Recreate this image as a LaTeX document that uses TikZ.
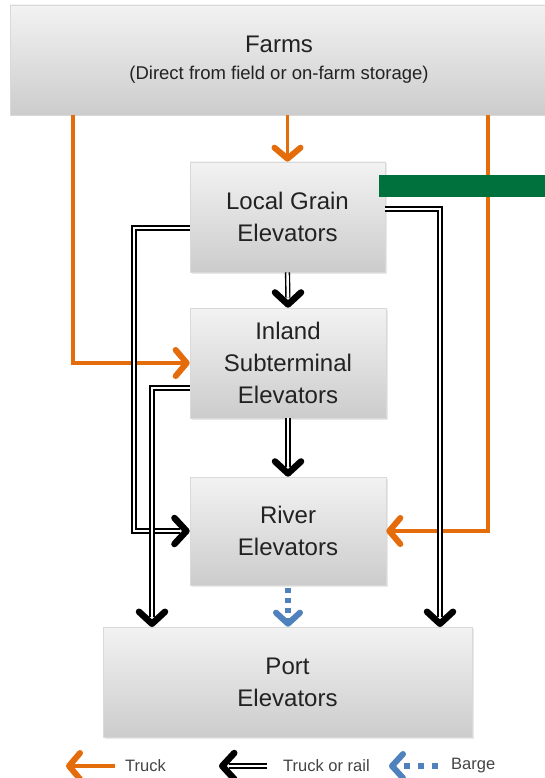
\documentclass[tikz,border=0pt]{standalone}
\usepackage{fontspec}
\setmainfont{Liberation Sans}
\usetikzlibrary{arrows.meta,shadows,calc}
\definecolor{orng}{HTML}{E46C0A}
\definecolor{bluA}{HTML}{4F81BD}
\definecolor{grn}{HTML}{00703C}
\definecolor{txt}{HTML}{222222}
\definecolor{legtxt}{HTML}{444444}
\begin{document}
\begin{tikzpicture}[x=1pt,y=-1pt,
  box/.style={draw=gray!30, line width=0.6pt, top color=gray!10, bottom color=gray!40,
    minimum width=196pt, minimum height=110pt, inner sep=0pt, align=center, text=txt,
    font=\fontsize{24}{32}\selectfont,
    drop shadow={opacity=0.18, shadow xshift=1.5pt, shadow yshift=-1.5pt}},
  oline/.style={draw=orng, line width=3.5pt,
    -{Straight Barb[length=11pt,width=26pt,line width=6pt,round]}},
  dline/.style={draw=black, line width=1.4pt, double=white, double distance=2.4pt,
    shorten >=10pt},
  btip/.style={draw=black, line width=0.5pt,
    -{Straight Barb[length=12pt,width=26pt,line width=6.5pt,round]}},
  bline/.style={draw=bluA, line width=6pt, dash pattern=on 5pt off 5pt,
    -{Straight Barb[length=11pt,width=24pt,line width=6pt,round]}},
  legend/.style={font=\fontsize{16.5}{20}\selectfont, text=legtxt, anchor=west, inner sep=0pt}
]
\useasboundingbox (0,0) rectangle (544,778);
\fill[white] (0,0) rectangle (544,778);

% boxes
\node[box, minimum width=538pt, font=\fontsize{24}{29}\selectfont] (farms) at (279,60)
  {Farms\\[-2pt]{\fontsize{18.5}{29}\selectfont (Direct from field or on-farm storage)}};
\node[box, minimum width=195pt] (local) at (287.5,217) {Local Grain\\Elevators};
\node[box] (inland) at (288,363) {Inland\\Subterminal\\Elevators};
\node[box, minimum height=108pt] (river) at (288,531) {River\\Elevators};
\node[box, minimum width=369pt] (port) at (287.5,682) {Port\\Elevators};

% coordinates
\coordinate (oL) at (73,115);
\coordinate (oR) at (488,115);
\coordinate (lgL) at ($(local.west)+(0,11)$);
\coordinate (lgLc) at (134,531);
\coordinate (lgR) at ($(local.east)+(0,-8)$);
\coordinate (lgRc) at (440,627);
\coordinate (inL) at ($(inland.west)+(0,25)$);
\coordinate (inLc) at (152,627);

% orange truck flows
\draw[oline] (local.north |- farms.south) -- (local.north);
\draw[oline] (oL) |- (inland.west);
\draw[oline] (oR) |- (river.east);

% black truck or rail flows
\draw[dline] (local.south) -- (inland.north);
\draw[btip] ($(inland.north)+(0,-2)$) -- (inland.north);
\draw[dline] (inland.south) -- (river.north);
\draw[btip] ($(river.north)+(0,-2)$) -- (river.north);
\draw[dline] (lgL) -| (lgLc) -- (river.west);
\draw[btip] ($(river.west)+(-2,0)$) -- (river.west);
\draw[dline] (lgR) -| (lgRc);
\draw[btip] ($(lgRc)+(0,-2)$) -- (lgRc);
\draw[dline] (inL) -| (inLc);
\draw[btip] ($(inLc)+(0,-2)$) -- (inLc);

% barge
\draw[bline] ($(river.south)+(0,3)$) -- (river.south |- port.north);

% green bar
\node[fill=grn, minimum width=170pt, minimum height=22pt, inner sep=0pt, anchor=west] (bar) at (379,186) {};

% legend
\coordinate (t1) at (115,766); \coordinate (t0) at (66,766);
\draw[oline] (t1) -- (t0);
\node[legend] (ltruck) at (125,766) {Truck};
\coordinate (r1) at (267,766); \coordinate (r0) at (219,766);
\draw[dline] (r1) -- (r0);
\draw[btip] ($(r0)+(2,0)$) -- (r0);
\node[legend] (lrail) at (283,766) {Truck or rail};
\coordinate (b1) at (438,766); \coordinate (b0) at (389,766);
\draw[bline, dash pattern=on 6pt off 8pt] (b1) -- (b0);
\node[legend] (lbarge) at (451,766) {Barge};
\end{tikzpicture}
\end{document}
